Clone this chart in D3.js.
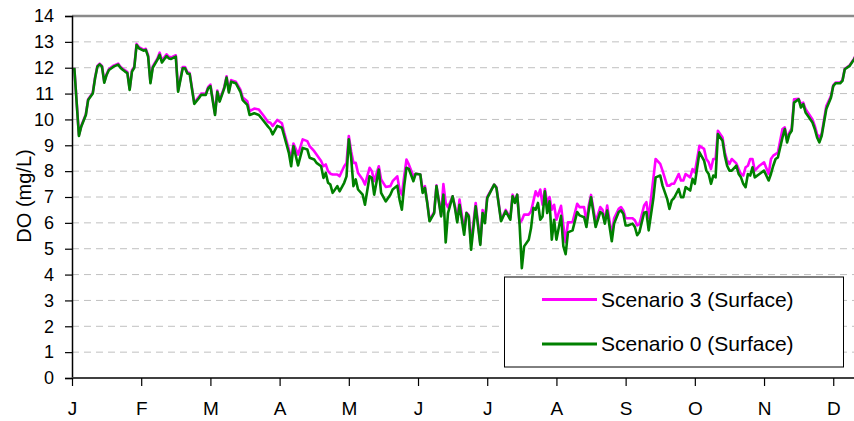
<!DOCTYPE html>
<html>
<head>
<meta charset="utf-8">
<script src="https://cdn.jsdelivr.net/npm/d3@7"></script>
<style>
  body { margin: 0; background: #fff; }
  svg { display: block; font-family: "Liberation Sans", Arial, sans-serif; }
</style>
</head>
<body>
<div id="chart"></div>
<script>
// day of year (approx.) for each reading
const days = [1,3,4,6,7,9,10,11,12,13,14,15,16,18,20,21,22,23,24,25,26,27,28,29,31,32,33,34,35,37,38,39,41,42,43,45,46,48,49,50,51,53,55,56,58,59,60,62,63,64,66,67,68,69,71,73,74,76,77,79,81,83,85,86,87,89,91,92,94,95,96,98,100,102,103,105,106,108,109,110,111,112,113,115,116,118,119,120,121,122,123,124,126,127,129,130,131,133,134,136,138,139,141,142,143,144,145,146,148,149,151,152,153,154,155,157,158,160,161,162,163,165,166,167,168,170,171,172,173,175,177,178,179,180,183,184,186,188,190,191,192,193,194,195,196,198,199,200,201,202,203,204,205,206,207,208,209,210,212,213,214,215,217,219,220,222,223,224,225,227,229,230,231,232,234,235,237,238,239,240,241,243,244,245,246,248,249,250,252,253,255,256,258,259,260,261,263,264,265,266,268,269,270,272,274,275,276,277,278,279,280,282,283,284,285,286,288,289,290,291,292,293,294,295,296,298,300,302,303,304,305,306,308,309,310,311,312,313,315,316,317,318,319,321,322,323,324,325,327,329,330,331,333,334,335,337,339,340];

const scen0 = [12.0,9.36,9.72,10.17,10.75,11.0,11.59,12.04,12.13,12.04,11.42,11.72,11.91,12.04,12.12,12.0,11.92,11.85,11.79,11.14,11.85,12.0,12.88,12.75,12.66,12.69,12.43,11.4,12.0,12.3,12.5,12.2,12.45,12.36,12.34,12.43,11.07,11.98,11.98,11.78,11.76,10.6,10.82,10.95,10.95,11.2,11.29,10.17,11.07,10.69,11.2,11.62,11.04,11.46,11.4,11.07,10.75,10.56,10.17,10.24,10.17,9.95,9.72,9.62,9.42,9.75,9.68,9.36,8.71,8.19,8.97,8.22,8.9,8.84,8.52,8.45,8.32,8.19,7.74,7.93,7.55,7.48,7.16,7.42,7.22,7.55,7.8,9.23,8.52,7.42,7.68,7.29,7.09,6.7,7.8,7.74,7.09,8.06,7.16,6.83,7.09,7.29,7.44,6.9,6.51,7.42,8.13,8.09,7.61,7.9,7.87,7.16,7.35,6.77,6.06,6.38,7.42,6.25,7.09,5.24,6.38,7.03,6.58,6.02,6.7,5.54,6.38,6.25,4.96,6.64,5.15,6.38,5.99,6.96,7.48,7.35,6.06,6.45,6.12,7.03,6.77,7.09,5.99,4.25,5.09,5.35,5.8,6.58,6.51,6.77,6.12,6.25,7.22,6.38,6.83,5.35,6.12,5.35,6.27,5.1,4.79,5.63,5.71,6.42,6.29,6.22,5.84,6.48,6.99,5.84,6.42,6.35,5.97,6.48,5.29,5.97,6.42,6.48,6.35,5.9,5.9,5.97,5.84,5.52,5.65,6.39,6.42,5.71,6.93,7.76,7.83,7.44,6.93,6.54,6.87,6.96,7.31,6.99,6.99,7.38,7.25,7.7,7.51,8.73,8.41,8.02,7.89,7.51,7.83,7.76,9.43,9.18,8.6,8.21,8.02,8.02,8.21,7.89,7.76,7.51,7.38,7.89,7.83,8.15,7.76,7.89,8.02,7.64,7.89,8.21,8.47,8.53,9.3,9.63,9.11,9.43,9.56,10.65,10.78,10.46,10.59,10.27,10.14,9.88,9.63,9.3,9.11,9.37,10.4,10.84,11.29,11.4,11.4,11.49,11.94,12.06,12.32,12.5];

const scen3 = [12.0,9.4,9.75,10.2,10.78,11.03,11.62,12.07,12.16,12.07,11.45,11.75,11.95,12.08,12.16,12.04,11.96,11.9,11.83,11.18,11.9,12.04,12.92,12.8,12.7,12.73,12.48,11.45,12.05,12.35,12.58,12.28,12.52,12.42,12.4,12.48,11.12,12.03,12.03,11.83,11.8,10.65,10.87,11.0,11.0,11.25,11.35,10.22,11.12,10.74,11.25,11.67,11.1,11.52,11.46,11.15,10.85,10.7,10.32,10.42,10.38,10.15,9.9,9.87,9.75,9.98,9.85,9.49,8.84,8.45,9.07,8.64,9.23,9.16,8.97,8.77,8.64,8.39,8.19,8.26,8.0,7.9,7.87,7.87,7.8,8.19,8.32,9.36,8.77,8.32,8.32,7.93,7.68,7.48,8.13,8.0,7.61,8.19,7.68,7.39,7.42,7.61,7.8,7.29,7.09,7.8,8.45,8.26,7.8,7.9,7.87,7.29,7.42,6.8,6.1,6.42,7.45,6.3,7.5,6.77,6.6,7.03,6.65,6.1,6.9,5.7,6.4,6.3,5.2,6.77,5.2,6.5,6.1,7.0,7.48,7.38,6.1,6.5,6.2,7.09,6.85,7.09,5.99,6.1,6.32,6.32,6.45,6.83,7.22,7.03,7.29,6.7,7.31,6.77,7.0,6.51,6.7,6.12,6.66,5.9,5.25,6.02,6.03,6.74,6.61,6.61,6.03,6.67,7.08,6.03,6.61,6.5,6.03,6.67,5.5,6.18,6.54,6.61,6.48,6.18,6.18,6.18,6.1,5.9,5.95,6.67,6.8,6.18,7.7,8.47,8.28,8.02,7.44,7.44,7.51,7.51,7.89,7.64,7.64,7.89,7.76,8.08,7.95,8.98,8.86,8.47,8.34,8.08,8.47,8.47,9.56,9.3,8.73,8.41,8.28,8.47,8.3,8.08,7.89,7.83,8.15,8.21,8.47,8.47,8.02,8.21,8.34,7.89,8.47,8.6,8.66,8.72,9.63,9.69,9.24,9.5,9.65,10.78,10.8,10.6,10.65,10.4,10.27,10.0,9.75,9.43,9.3,9.45,10.52,10.9,11.32,11.43,11.43,11.52,11.96,12.08,12.35,12.52];

const monthLabels = ['J','F','M','A','M','J','J','A','S','O','N','D'];
const monthTicks = monthLabels.map((m, i) => i * 30);
const yTicks = d3.range(0, 15);
const seriesNames = ['Scenario 3 (Surface)', 'Scenario 0 (Surface)'];
const seriesColors = ['#ff00ff', '#008000'];

const width = 854, height = 421;
const plotL = 72, plotR = 854, plotT = 16, plotB = 378;

const svg = d3.select('#chart').append('svg')
  .attr('width', width)
  .attr('height', height);

const x = d3.scaleLinear().domain([0, 339]).range([plotL, plotR]);
const y = d3.scaleLinear().domain([0, 14]).range([plotB, plotT]);

// dashed gridlines
svg.append('g')
  .selectAll('line')
  .data(yTicks.filter(d => d > 0 && d < 14))
  .join('line')
  .attr('x1', plotL).attr('x2', plotR)
  .attr('y1', d => y(d)).attr('y2', d => y(d))
  .attr('stroke', '#c0c0c0')
  .attr('stroke-width', 1)
  .attr('stroke-dasharray', '7,5');

// top border of plot area
svg.append('line')
  .attr('x1', plotL).attr('x2', plotR)
  .attr('y1', y(14)).attr('y2', y(14))
  .attr('stroke', '#8a8a8a')
  .attr('stroke-width', 2.5);

svg.append('clipPath').attr('id', 'plot')
  .append('rect')
  .attr('x', plotL).attr('y', plotT - 5)
  .attr('width', plotR - plotL).attr('height', plotB - plotT + 5);

const pts = days.map((d, i) => ({ d, s3: scen3[i], s0: scen0[i] }));

const line3 = d3.line().x(p => x(p.d)).y(p => y(p.s3));
const line0 = d3.line().x(p => x(p.d)).y(p => y(p.s0));

const lines = svg.append('g').attr('clip-path', 'url(#plot)');
lines.append('path')
  .datum(pts)
  .attr('d', line3)
  .attr('fill', 'none')
  .attr('stroke', seriesColors[0])
  .attr('stroke-width', 2.6)
  .attr('stroke-linejoin', 'round');
lines.append('path')
  .datum(pts)
  .attr('d', line0)
  .attr('fill', 'none')
  .attr('stroke', seriesColors[1])
  .attr('stroke-width', 2.6)
  .attr('stroke-linejoin', 'round');

// y axis
const yAxis = svg.append('g')
  .attr('transform', `translate(${plotL},0)`)
  .call(d3.axisLeft(y).tickValues(yTicks).tickSize(7).tickPadding(11).tickFormat(d3.format('d')));
yAxis.select('.domain').attr('stroke', '#000').attr('stroke-width', 1.5);
yAxis.selectAll('.tick line').attr('stroke', '#000').attr('stroke-width', 1.2);
yAxis.selectAll('text')
  .attr('font-size', 18)
  .attr('font-family', '"Liberation Sans", Arial, sans-serif')
  .attr('fill', '#000');

// x axis
const xAxis = svg.append('g')
  .attr('transform', `translate(0,${plotB})`)
  .call(d3.axisBottom(x).tickValues(monthTicks).tickSize(8).tickPadding(16)
    .tickFormat((d, i) => monthLabels[i]));
xAxis.select('.domain').attr('stroke', '#404040').attr('stroke-width', 2.2)
  .attr('d', `M${plotL},0H${plotR}`);
xAxis.selectAll('.tick line').attr('stroke', '#000').attr('stroke-width', 1.2);
xAxis.selectAll('text')
  .attr('font-size', 19)
  .attr('font-family', '"Liberation Sans", Arial, sans-serif')
  .attr('fill', '#000');

// y axis title
svg.append('text')
  .attr('transform', 'translate(31,196) rotate(-90)')
  .attr('text-anchor', 'middle')
  .attr('font-size', 20)
  .attr('fill', '#000')
  .text('DO (mg/L)');

// legend
const legend = svg.append('g');
legend.append('rect')
  .attr('x', 504.5).attr('y', 277)
  .attr('width', 339).attr('height', 90)
  .attr('fill', '#fff')
  .attr('stroke', '#000')
  .attr('stroke-width', 1);
const rowY = [299.5, 344];
seriesNames.forEach((name, i) => {
  legend.append('line')
    .attr('x1', 542).attr('x2', 597)
    .attr('y1', rowY[i]).attr('y2', rowY[i])
    .attr('stroke', seriesColors[i])
    .attr('stroke-width', 2.8);
  legend.append('text')
    .attr('x', 601).attr('y', rowY[i] + 7)
    .attr('font-size', 21)
    .attr('fill', '#000')
    .text(name);
});
</script>
</body>
</html>
